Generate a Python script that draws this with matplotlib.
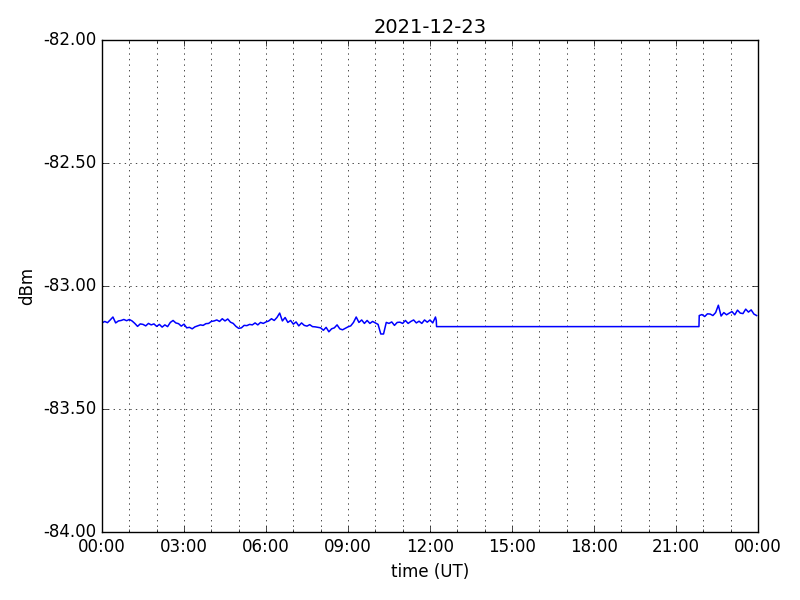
import numpy as np
import matplotlib
matplotlib.use('Agg')
import matplotlib.pyplot as plt
from matplotlib.ticker import FuncFormatter, MultipleLocator

# hours since 00:00 UT, 6-minute steps for the first part of the day
t_morning = [i * 0.1 for i in range(123)]
p_morning = [
    -83.150, -83.144, -83.149, -83.138, -83.126, -83.150, -83.142, -83.140, -83.136, -83.141,
    -83.136, -83.142, -83.152, -83.164, -83.154, -83.156, -83.162, -83.152, -83.158, -83.154,
    -83.164, -83.156, -83.167, -83.158, -83.165, -83.148, -83.140, -83.150, -83.153, -83.163,
    -83.155, -83.170, -83.168, -83.174, -83.166, -83.162, -83.158, -83.160, -83.153, -83.152,
    -83.144, -83.142, -83.138, -83.144, -83.133, -83.142, -83.134, -83.147, -83.152, -83.164,
    -83.172, -83.170, -83.160, -83.161, -83.156, -83.158, -83.150, -83.158, -83.148, -83.152,
    -83.146, -83.142, -83.133, -83.140, -83.128, -83.110, -83.142, -83.128, -83.148, -83.140,
    -83.155, -83.146, -83.162, -83.150, -83.160, -83.163, -83.157, -83.165, -83.166, -83.168,
    -83.170, -83.180, -83.168, -83.186, -83.174, -83.170, -83.158, -83.174, -83.178, -83.172,
    -83.166, -83.162, -83.148, -83.126, -83.148, -83.138, -83.152, -83.140, -83.152, -83.144,
    -83.150, -83.156, -83.195, -83.195, -83.148, -83.152, -83.146, -83.160, -83.148, -83.147,
    -83.152, -83.140, -83.152, -83.144, -83.138, -83.150, -83.143, -83.152, -83.138, -83.147,
    -83.138, -83.150, -83.126,
]

# long gap with a constant value
t_gap = [12.23, 12.24, 21.84]
p_gap = [-83.140, -83.165, -83.165]

# late evening
t_evening = [21.85 + i * 0.1 for i in range(22)]
p_evening = [
    -83.120, -83.116, -83.124, -83.113, -83.114, -83.120, -83.108, -83.078, -83.122, -83.108,
    -83.117, -83.110, -83.104, -83.117, -83.098, -83.110, -83.112, -83.094, -83.106, -83.097,
    -83.114, -83.120,
]

t = t_morning + t_gap + t_evening
p = p_morning + p_gap + p_evening

plt.style.use('classic')
fig = plt.figure(figsize=(8, 6), dpi=100, facecolor='white')
ax = fig.add_axes([0.1275, 0.1133, 0.82, 0.82])

ax.plot(t, p, color='blue', lw=1.1)

ax.set_xlim(0, 24)
ax.set_ylim(-84, -82)
ax.xaxis.set_major_locator(MultipleLocator(3))
ax.xaxis.set_minor_locator(MultipleLocator(1))
ax.xaxis.set_major_formatter(FuncFormatter(lambda v, pos: '%02d:00' % (int(round(v)) % 24)))
ax.yaxis.set_major_locator(MultipleLocator(0.5))
ax.yaxis.set_major_formatter(FuncFormatter(lambda v, pos: '%.2f' % v))
ax.grid(True, which='both', axis='x', linestyle=':', color='black', lw=0.5)
ax.grid(True, which='major', axis='y', linestyle=':', color='black', lw=0.5)
ax.set_axisbelow(True)

ax.set_title('2021-12-23', fontsize=14)
ax.set_xlabel('time (UT)')
ax.set_ylabel('dBm')

fig.savefig('out.png', dpi=100, facecolor='white')
